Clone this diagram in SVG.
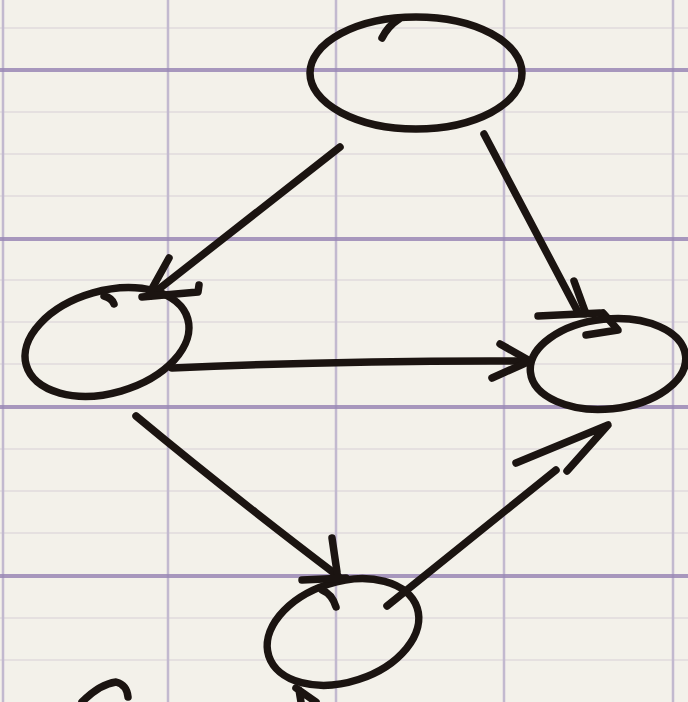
<svg xmlns="http://www.w3.org/2000/svg" width="688" height="702" viewBox="0 0 688 702">
  <style>
    .ink{fill:none;stroke:#1b1411;stroke-width:7.5;stroke-linecap:round;stroke-linejoin:round}
    .major{stroke:#9a88b6;stroke-width:4;opacity:.85}
    .minor{stroke:#e5e0e0;stroke-width:2}
    .vert{stroke:#c2b9cf;stroke-width:2.5}
  </style>
  <rect width="688" height="702" fill="#f3f1ea"/>
  <g id="paper">
    <g class="minor">
      <line x1="0" y1="28" x2="688" y2="28"/>
      <line x1="0" y1="112" x2="688" y2="112"/>
      <line x1="0" y1="154" x2="688" y2="154"/>
      <line x1="0" y1="196" x2="688" y2="196"/>
      <line x1="0" y1="280" x2="688" y2="280"/>
      <line x1="0" y1="322" x2="688" y2="322"/>
      <line x1="0" y1="364" x2="688" y2="364"/>
      <line x1="0" y1="449" x2="688" y2="449"/>
      <line x1="0" y1="491" x2="688" y2="491"/>
      <line x1="0" y1="533" x2="688" y2="533"/>
      <line x1="0" y1="618" x2="688" y2="618"/>
      <line x1="0" y1="660" x2="688" y2="660"/>
    </g>
    <g class="vert">
      <line x1="3" y1="0" x2="3" y2="702"/>
      <line x1="168" y1="0" x2="168" y2="702"/>
      <line x1="336" y1="0" x2="336" y2="702"/>
      <line x1="504" y1="0" x2="504" y2="702"/>
      <line x1="673" y1="0" x2="673" y2="702"/>
    </g>
    <g class="major">
      <line x1="0" y1="70" x2="688" y2="70"/>
      <line x1="0" y1="239" x2="688" y2="239"/>
      <line x1="0" y1="407" x2="688" y2="407"/>
      <line x1="0" y1="576" x2="688" y2="576"/>
    </g>
  </g>
  <g id="node-top">
    <ellipse class="ink" cx="416" cy="73" rx="106" ry="56"/>
    <path class="ink" d="M 399 19 Q 388 26 382 38"/>
  </g>
  <g id="node-left">
    <ellipse class="ink" cx="107" cy="342" rx="84" ry="51" transform="rotate(-16 107 342)"/>
    <path class="ink" d="M 104 296 Q 112 298 114 304"/>
  </g>
  <g id="node-right">
    <ellipse class="ink" cx="608" cy="364" rx="78" ry="45" transform="rotate(-6 608 364)"/>
    <path class="ink" d="M 586 335 L 618 330 L 603 313"/>
  </g>
  <g id="node-bottom">
    <ellipse class="ink" cx="343" cy="632" rx="78" ry="50" transform="rotate(-18 343 632)"/>
    <path class="ink" d="M 322 590 Q 332 594 336 607"/>
  </g>
  <g id="node-partial">
    <path class="ink" d="M 82 702 Q 100 684 116 682 Q 127 685 128 697"/>
    <path class="ink" d="M 296 688 L 316 702 M 299 690 L 301 702"/>
  </g>
  <g id="connectors">
    <path class="ink" d="M 340 147 L 150 296"/>
    <path class="ink" d="M 169 258 L 149 294 M 142 297 L 198 292 L 199 285"/>
    <path class="ink" d="M 484 134 L 578 312"/>
    <path class="ink" d="M 574 281 L 586 314 M 538 316 L 600 313"/>
    <path class="ink" d="M 172 368 Q 350 360 530 361"/>
    <path class="ink" d="M 500 344 L 530 361 L 492 378"/>
    <path class="ink" d="M 136 416 Q 225 490 338 576"/>
    <path class="ink" d="M 332 538 L 337 572 M 302 580 L 346 578"/>
    <path class="ink" d="M 387 606 L 556 470"/>
    <path class="ink" d="M 516 463 L 608 425 L 567 471"/>
  </g>
</svg>
